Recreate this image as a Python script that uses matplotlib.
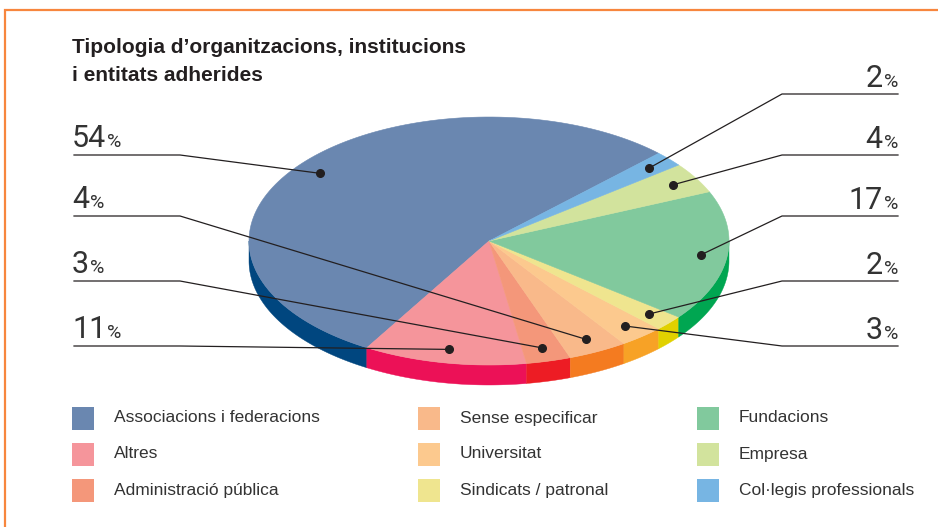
import numpy as np
import matplotlib
matplotlib.use('Agg')
import matplotlib.pyplot as plt
from matplotlib.patches import Polygon, Rectangle

# data
categories = ['Associacions i federacions', 'Altres', 'Administració pública',
              'Sense especificar', 'Universitat', 'Sindicats / patronal',
              'Fundacions', 'Empresa', 'Col·legis professionals']
values = [54, 11, 3, 4, 3, 2, 17, 4, 2]
top_colors = ['#6a87b0', '#f5959b', '#f4977a', '#f9b98a', '#fcc98e',
              '#efe58f', '#81c99d', '#d2e39d', '#77b5e3']
side_colors = ['#00467f', '#ec1157', '#ed1c24', '#f47b20', '#f7a226',
               '#e1d100', '#00a651', '#9fc95a', '#3b8fd0']
title_lines = ['Tipologia d\u2019organitzacions, institucions', 'i entitats adherides']

# which slice goes to which label row
left_labels = [0, 3, 2, 1]
right_labels = [8, 7, 6, 5, 4]

fig = plt.figure(figsize=(9.38, 5.27), dpi=100)
ax = fig.add_axes([0, 0, 1, 1])
ax.set_xlim(0, 938)
ax.set_ylim(527, 0)
ax.axis('off')

# orange frame
ax.plot([5, 5, 938], [527, 10, 10], color='#f7863e', lw=1.6, solid_joinstyle='miter')

# title
for k, line in enumerate(title_lines):
    ax.text(72, 53 + 28 * k, line, fontsize=15, fontweight='bold',
            family='Liberation Sans', color='#231f20', va='baseline')

# pie geometry
cx, cy, rx, ry, depth = 489, 241, 240, 124, 20
start = 45
fracs = np.array(values) / sum(values)
bounds = start + 360 * np.concatenate([[0], np.cumsum(fracs)])


def arc(t0, t1, n=120):
    t = np.radians(np.linspace(t0, t1, n))
    return cx + rx * np.cos(t), cy - ry * np.sin(t)


# side band (front half only)
for i in range(len(values)):
    lo = max(bounds[i], 180)
    hi = min(bounds[i + 1], 360)
    if hi > lo:
        xs, ys = arc(lo, hi)
        pts = np.column_stack([np.r_[xs, xs[::-1]], np.r_[ys, ys[::-1] + depth]])
        ax.add_patch(Polygon(pts, closed=True, facecolor=side_colors[i],
                             edgecolor=side_colors[i], lw=0.3))

# top face
dots = []
for i in range(len(values)):
    xs, ys = arc(bounds[i], bounds[i + 1])
    pts = np.column_stack([np.r_[cx, xs], np.r_[cy, ys]])
    ax.add_patch(Polygon(pts, closed=True, facecolor=top_colors[i],
                         edgecolor=top_colors[i], lw=0.4))
    mid = np.radians((bounds[i] + bounds[i + 1]) / 2)
    dots.append((cx + 0.89 * rx * np.cos(mid), cy - 0.89 * ry * np.sin(mid)))

# leader lines + labels
rows = [94, 155, 216, 281, 346]
num_kw = dict(family='Roboto', fontweight='normal', color='#333333', va='baseline')
pct_pairs = []
for k, i in enumerate(left_labels):
    y = rows[k + 1]
    dx, dy = dots[i]
    ax.plot([74, 180, dx], [y, y, dy], color='#231f20', lw=0.9)
    ax.plot(dx, dy, 'o', color='#231f20', ms=5.5)
    t = ax.text(72, y - 8, str(values[i]), fontsize=22, ha='left', **num_kw)
    pct_pairs.append(('L', t, y - 8))
for k, i in enumerate(right_labels):
    y = rows[k]
    dx, dy = dots[i]
    ax.plot([898, 782, dx], [y, y, dy], color='#231f20', lw=0.9)
    ax.plot(dx, dy, 'o', color='#231f20', ms=5.5)
    t = ax.text(898, y - 7, '%', fontsize=14, ha='right', **num_kw)
    pct_pairs.append(('R', t, y - 7, values[i]))

fig.canvas.draw()
inv = ax.transData.inverted()
for item in pct_pairs:
    bb = item[1].get_window_extent()
    x0 = inv.transform((bb.x0, bb.y0))[0]
    x1 = inv.transform((bb.x1, bb.y0))[0]
    if item[0] == 'L':
        ax.text(x1 + 1, item[2], '%', fontsize=14, ha='left', **num_kw)
    else:
        ax.text(x0 - 1, item[2], str(item[3]), fontsize=22, ha='right', **num_kw)

# legend
col_x = [72, 418, 697]
row_y = [418, 454, 490]
for i, name in enumerate(categories):
    x = col_x[i // 3]
    y = row_y[i % 3]
    ax.add_patch(Rectangle((x, y - 11.5), 22, 23, facecolor=top_colors[i], edgecolor='none'))
    ax.text(x + 42, y, name, fontsize=12.5, family='Liberation Sans',
            color='#333333', va='center', ha='left')

fig.savefig('out.png', dpi=100)
